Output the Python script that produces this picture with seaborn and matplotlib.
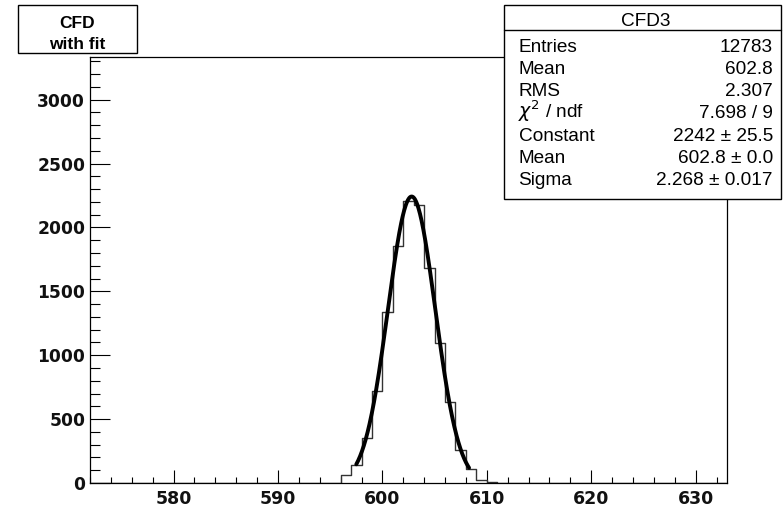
import numpy as np
import pandas as pd
import matplotlib
matplotlib.use("Agg")
import matplotlib.pyplot as plt
from matplotlib.patches import Rectangle
from matplotlib.lines import Line2D
from matplotlib.ticker import MultipleLocator
import seaborn as sns

# ---- data ----
bin_low_edges = [595, 596, 597, 598, 599, 600, 601, 602, 603, 604, 605, 606, 607, 608, 609, 610]
bin_counts = [3, 64, 143, 349, 722, 1340, 1856, 2207, 2174, 1679, 1097, 636, 258, 107, 23, 8]

fit_constant = 2242.0
fit_mean = 602.8
fit_sigma = 2.268
fit_range = [597.5, 608.3]

x_limits = [572, 633]
y_limits = [0, 3330]
x_major_ticks = [580, 590, 600, 610, 620, 630]
y_major_ticks = [0, 500, 1000, 1500, 2000, 2500, 3000]

stats_title = "CFD3"
stats_names = ["Entries", "Mean", "RMS", "$\\chi^{2}$ / ndf", "Constant", "Mean", "Sigma"]
stats_values = ["12783", "602.8", "2.307", "7.698 / 9", "2242 ± 25.5", "602.8 ± 0.0", "2.268 ± 0.017"]
title_lines = ["CFD", "with fit"]

# ---- style ----
sns.set_theme(style="white")
plt.rcParams["font.family"] = ["Liberation Sans", "DejaVu Sans"]
plt.rcParams["mathtext.fontset"] = "dejavusans"

W, H = 783, 511
fig = plt.figure(figsize=(W / 100, H / 100), dpi=100)
fig.patch.set_facecolor("white")

def fx(px):
    return px / W

def fy(py):
    return 1 - py / H

ax = fig.add_axes([fx(90), fy(483), fx(727) - fx(90), (483 - 57.5) / H])
ax.set_facecolor("white")

df = pd.DataFrame({"x": [e + 0.5 for e in bin_low_edges], "w": bin_counts})
sns.histplot(data=df, x="x", weights="w", binwidth=1, binrange=(x_limits[0], x_limits[1]),
             element="step", fill=False, color="#333333", linewidth=1.0, ax=ax)

xf = np.linspace(fit_range[0], fit_range[1], 300)
yf = fit_constant * np.exp(-0.5 * ((xf - fit_mean) / fit_sigma) ** 2)
sns.lineplot(x=xf, y=yf, color="black", linewidth=2.8, ax=ax)

ax.set_xlim(*x_limits)
ax.set_ylim(*y_limits)
ax.set_xlabel("")
ax.set_ylabel("")
ax.set_xticks(x_major_ticks)
ax.set_yticks(y_major_ticks)
ax.xaxis.set_minor_locator(MultipleLocator(2))
ax.yaxis.set_minor_locator(MultipleLocator(100))
ax.tick_params(axis="x", which="major", direction="in", length=9.4, width=0.8,
               color="black", labelsize=12.5, pad=5, bottom=True, top=False)
ax.tick_params(axis="x", which="minor", direction="in", length=4.3, width=0.8,
               color="black", bottom=True, top=False)
ax.tick_params(axis="y", which="major", direction="in", length=14.4, width=0.8,
               color="black", labelsize=12.3, pad=3.5, left=True, right=False)
ax.tick_params(axis="y", which="minor", direction="in", length=7.2, width=0.8,
               color="black", left=True, right=False)
for lab in ax.get_xticklabels() + ax.get_yticklabels():
    lab.set_fontweight("bold")
    lab.set_fontfamily(["DejaVu Sans"])
    lab.set_color("#111111")
for side in ["left", "bottom", "top", "right"]:
    ax.spines[side].set_visible(True)
    ax.spines[side].set_color("black")
    ax.spines[side].set_linewidth(0.9)

# ---- title box ----
fig.patches.append(Rectangle((fx(18), fy(53)), fx(137) - fx(18), (53 - 5) / H,
                             transform=fig.transFigure, facecolor="white",
                             edgecolor="black", linewidth=1.0, zorder=5))
fig.text(fx(77.5), fy(28.3), title_lines[0], ha="center", va="baseline",
         fontsize=12.5, fontweight="bold", color="black", zorder=6)
fig.text(fx(77.5), fy(49), title_lines[1], ha="center", va="baseline",
         fontsize=12.5, fontweight="bold", color="black", zorder=6)

# ---- stats box ----
fig.patches.append(Rectangle((fx(503.5), fy(199)), fx(781) - fx(503.5), (199 - 5) / H,
                             transform=fig.transFigure, facecolor="white",
                             edgecolor="black", linewidth=1.0, zorder=5))
fig.lines.append(Line2D([fx(503.5), fx(781)], [fy(30.5), fy(30.5)],
                        transform=fig.transFigure, color="black", linewidth=1.0, zorder=6))
fig.text(fx(646), fy(26.5), stats_title, ha="center", va="baseline",
         fontsize=13.7, color="black", zorder=7)
for i, (n, v) in enumerate(zip(stats_names, stats_values)):
    yb = 51.9 + 22.2 * i
    fig.text(fx(518.5), fy(yb), n, ha="left", va="baseline", fontsize=13.7,
             color="black", zorder=7)
    fig.text(fx(773), fy(yb), v, ha="right", va="baseline", fontsize=13.7,
             color="black", zorder=7)

fig.savefig("out.png", dpi=100, facecolor="white")
